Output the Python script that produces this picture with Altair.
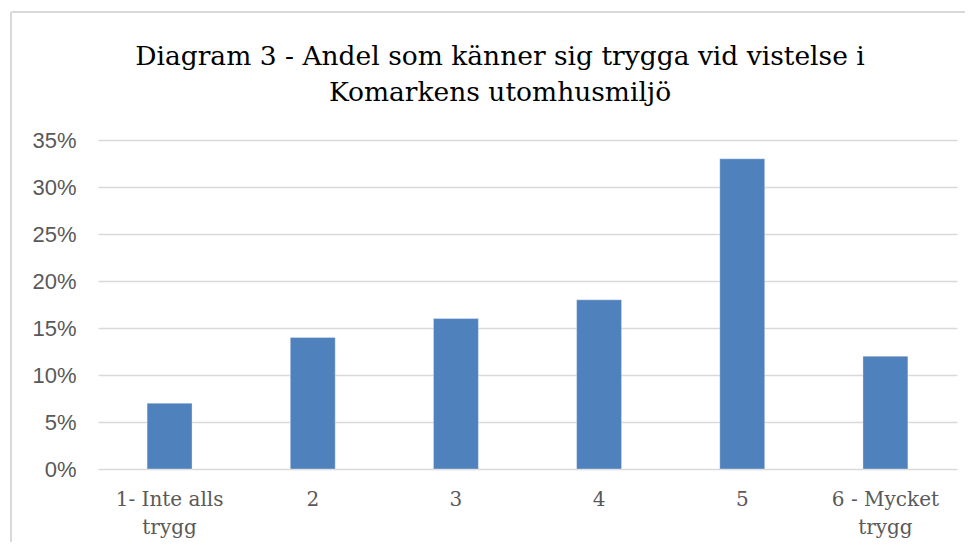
import altair as alt
import pandas as pd

categories = ["1- Inte alls|trygg", "2", "3", "4", "5", "6 - Mycket|trygg"]
values = [0.07, 0.14, 0.16, 0.18, 0.33, 0.12]
y_ticks = [0, 0.05, 0.10, 0.15, 0.20, 0.25, 0.30, 0.35]
title_lines = ["Diagram 3 - Andel som känner sig trygga vid vistelse i", "Komarkens utomhusmiljö"]

df = pd.DataFrame({"cat": categories, "val": values})

W, H = 859, 329

bars = alt.Chart(df).mark_bar(color="#4F81BD", stroke="#ffffff", strokeWidth=1, strokeOpacity=0.35).encode(
    x=alt.X("cat:N", sort=categories,
            scale=alt.Scale(paddingInner=0.686, paddingOuter=0.343),
            axis=alt.Axis(title=None, labelAngle=0, ticks=False, domain=False,
                          labelExpr="split(datum.label, '|')",
                          labelFont="DejaVu Serif", labelFontSize=20, labelColor="#595959",
                          labelLineHeight=28, labelPadding=20, labelBaseline="top")),
    y=alt.Y("val:Q", scale=alt.Scale(domain=[0, 0.35], nice=False),
            axis=alt.Axis(title=None, values=y_ticks, format=".0%", ticks=False, domain=False,
                          grid=True, gridColor="#d9d9d9", gridWidth=1.5,
                          labelFont="Liberation Sans", labelFontSize=22, labelColor="#595959",
                          labelPadding=22)),
)

border_df = pd.DataFrame({"k": [0]})
left_border = alt.Chart(border_df).mark_rule(color="#d9d9d9", strokeWidth=2).encode(
    x=alt.value(-87), y=alt.value(-128), y2=alt.value(H + 90))
top_border = alt.Chart(border_df).mark_rule(color="#d9d9d9", strokeWidth=2).encode(
    x=alt.value(-87), x2=alt.value(W + 20), y=alt.value(-128))

title_df = pd.DataFrame({"t": title_lines, "row": [0, 1]})
title = alt.Chart(title_df).mark_text(
    font="DejaVu Serif", fontSize=26.5, color="#000000", align="center", baseline="middle"
).encode(
    text="t:N",
    x=alt.value(402),
    y=alt.Y("row:Q", scale=alt.Scale(domain=[0, 1], range=[-83, -47]), axis=None),
)

chart = alt.layer(left_border, top_border, bars, title).properties(
    width=W, height=H,
    autosize=alt.AutoSizeParams(type="none"),
    padding={"left": 90, "top": 132, "right": 8, "bottom": 73},
).resolve_scale(y="independent").configure(background="#ffffff").configure_view(stroke=None)

chart.save("out.html", embed_options={"renderer": "svg", "actions": False})
